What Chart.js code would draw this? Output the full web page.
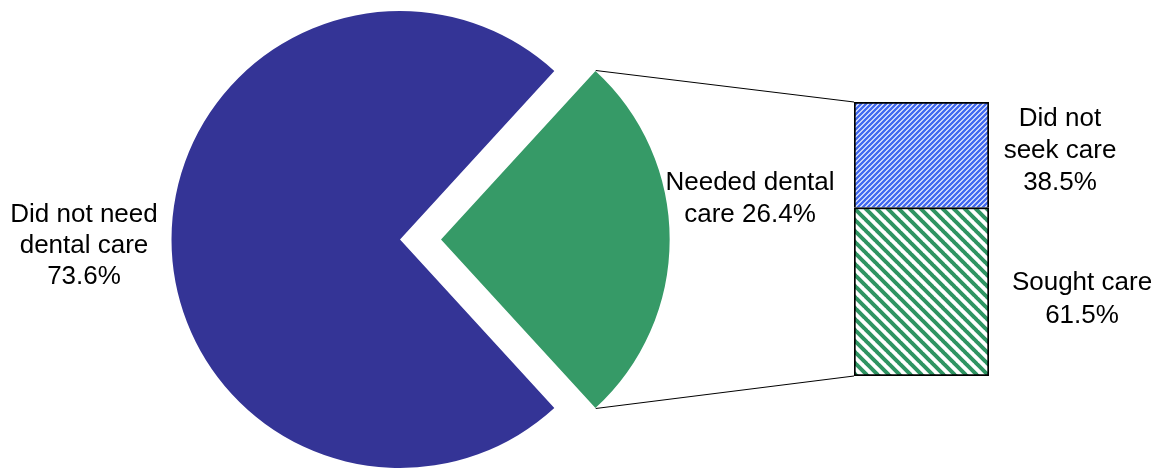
<!DOCTYPE html>
<html>
<head>
<meta charset="utf-8">
<script src="https://cdn.jsdelivr.net/npm/chart.js@4.4.1/dist/chart.umd.min.js"></script>
<style>
  html, body { margin: 0; padding: 0; background: #fff; }
  #wrap { position: relative; width: 1164px; height: 469px; overflow: hidden; }
  #pie { position: absolute; left: 0; top: 0; }
  #bar { position: absolute; left: 800px; top: 0; }
</style>
</head>
<body>
<div id="wrap">
  <canvas id="pie" width="1164" height="469"></canvas>
  <canvas id="bar" width="364" height="469"></canvas>
</div>
<script>
// main pie
const pieCategories = ["Needed dental care", "Did not need dental care"];
const pieValues = [26.4, 73.6];
// breakdown of "Needed dental care" (bottom of stack first)
const barCategories = ["Sought care", "Did not seek care"];
const barValues = [61.5, 38.5];

const FONT = '26px "Liberation Sans", Arial, Helvetica, sans-serif';
const BAR_LEFT = 800; // page x of the bar canvas

// text of the labels, built from the values
const pieLabels = [
  ["Needed dental", "care " + pieValues[0] + "%"],
  ["Did not need", "dental care", pieValues[1] + "%"],
];
const barLabels = [
  ["Sought care", barValues[0] + "%"],
  ["Did not", "seek care", barValues[1] + "%"],
];

// diagonal hatch fill
const makeHatch = (color, period, width, dir) => {
  const c = document.createElement("canvas");
  c.width = period;
  c.height = period;
  const g = c.getContext("2d");
  g.fillStyle = "#fff";
  g.fillRect(0, 0, period, period);
  g.strokeStyle = color;
  g.lineWidth = width;
  g.beginPath();
  for (let k = -1; k <= 1; k++) {
    if (dir === "/") {
      g.moveTo(k * period - 1, period + 1);
      g.lineTo(k * period + period + 1, -1);
    } else {
      g.moveTo(k * period - 1, -1);
      g.lineTo(k * period + period + 1, period + 1);
    }
  }
  g.stroke();
  return g.createPattern(c, "repeat");
};

const drawLines = (ctx, lines, cx, baseY, pitch) => {
  ctx.save();
  ctx.font = FONT;
  ctx.fillStyle = "#000";
  ctx.textAlign = "center";
  ctx.textBaseline = "alphabetic";
  lines.forEach((t, i) => ctx.fillText(t, cx, baseY + i * pitch));
  ctx.restore();
};

const barLabelPlugin = {
  id: "barLabels",
  afterDraw(chart) {
    const ctx = chart.ctx;
    drawLines(ctx, barLabels[1], 1060 - BAR_LEFT, 126, 32);
    drawLines(ctx, barLabels[0], 1082 - BAR_LEFT, 290, 33);
  },
};

const chartBar = new Chart(document.getElementById("bar"), {
  type: "bar",
  data: {
    labels: [""],
    datasets: barCategories.map((name, i) => ({
      label: name,
      data: [barValues[i]],
      backgroundColor: i === 0 ? makeHatch("#2f9462", 11, 4, "\\") : makeHatch("#4169f0", 5, 2.5, "/"),
      borderColor: "#000",
      borderWidth: 2,
      borderSkipped: i === 0 ? false : "bottom",
      barPercentage: 1,
      categoryPercentage: 1,
    })),
  },
  options: {
    responsive: false,
    animation: false,
    events: [],
    layout: { padding: { left: 54, right: 175, top: 102, bottom: 93 } },
    scales: {
      x: { display: false, stacked: true },
      y: { display: false, stacked: true, min: 0, max: 100 },
    },
    plugins: { legend: { display: false }, tooltip: { enabled: false } },
  },
  plugins: [barLabelPlugin],
});

// connector lines + pie labels
const piePlugin = {
  id: "pieExtras",
  afterDraw(chart) {
    const ctx = chart.ctx;
    const arc = chart.getDatasetMeta(0).data[0];
    const off = arc.options.offset || 0;
    const circ = arc.endAngle - arc.startAngle;
    const mid = (arc.startAngle + arc.endAngle) / 2;
    // same shift the arc element uses when it draws
    const t = off / 4;
    const r = arc.outerRadius + off * (1 - Math.sin(Math.min(Math.PI, circ)));
    const cx = arc.x + Math.cos(mid) * t;
    const cy = arc.y + Math.sin(mid) * t;
    const p1 = [cx + Math.cos(arc.startAngle) * r, cy + Math.sin(arc.startAngle) * r];
    const p2 = [cx + Math.cos(arc.endAngle) * r, cy + Math.sin(arc.endAngle) * r];

    const top = chartBar.getDatasetMeta(1).data[0];
    const bottom = chartBar.getDatasetMeta(0).data[0];
    const q1 = [BAR_LEFT + top.x - top.width / 2, top.y];
    const q2 = [BAR_LEFT + bottom.x - bottom.width / 2, bottom.base];

    ctx.save();
    ctx.strokeStyle = "#000";
    ctx.lineWidth = 1;
    ctx.beginPath();
    ctx.moveTo(p1[0], p1[1]);
    ctx.lineTo(q1[0], q1[1]);
    ctx.moveTo(p2[0], p2[1]);
    ctx.lineTo(q2[0], q2[1]);
    ctx.stroke();
    ctx.restore();

    drawLines(ctx, pieLabels[1], 84, 222, 31);
    drawLines(ctx, pieLabels[0], 750, 190, 32);
  },
};

const total = pieValues.reduce((a, b) => a + b, 0);
const chartPie = new Chart(document.getElementById("pie"), {
  type: "pie",
  data: {
    labels: pieCategories,
    datasets: [{
      data: pieValues,
      backgroundColor: ["#369a67", "#343496"],
      borderWidth: 0,
      offset: [164, 0],
      hoverOffset: 0,
      clip: false,
    }],
  },
  options: {
    responsive: false,
    animation: false,
    events: [],
    radius: 228.5,
    // green slice centred on the right side
    rotation: 90 - (pieValues[0] / total) * 180,
    layout: { padding: { left: 0, right: 364, top: 10, bottom: 0 } },
    plugins: { legend: { display: false }, tooltip: { enabled: false } },
  },
  plugins: [piePlugin],
});
</script>
</body>
</html>
